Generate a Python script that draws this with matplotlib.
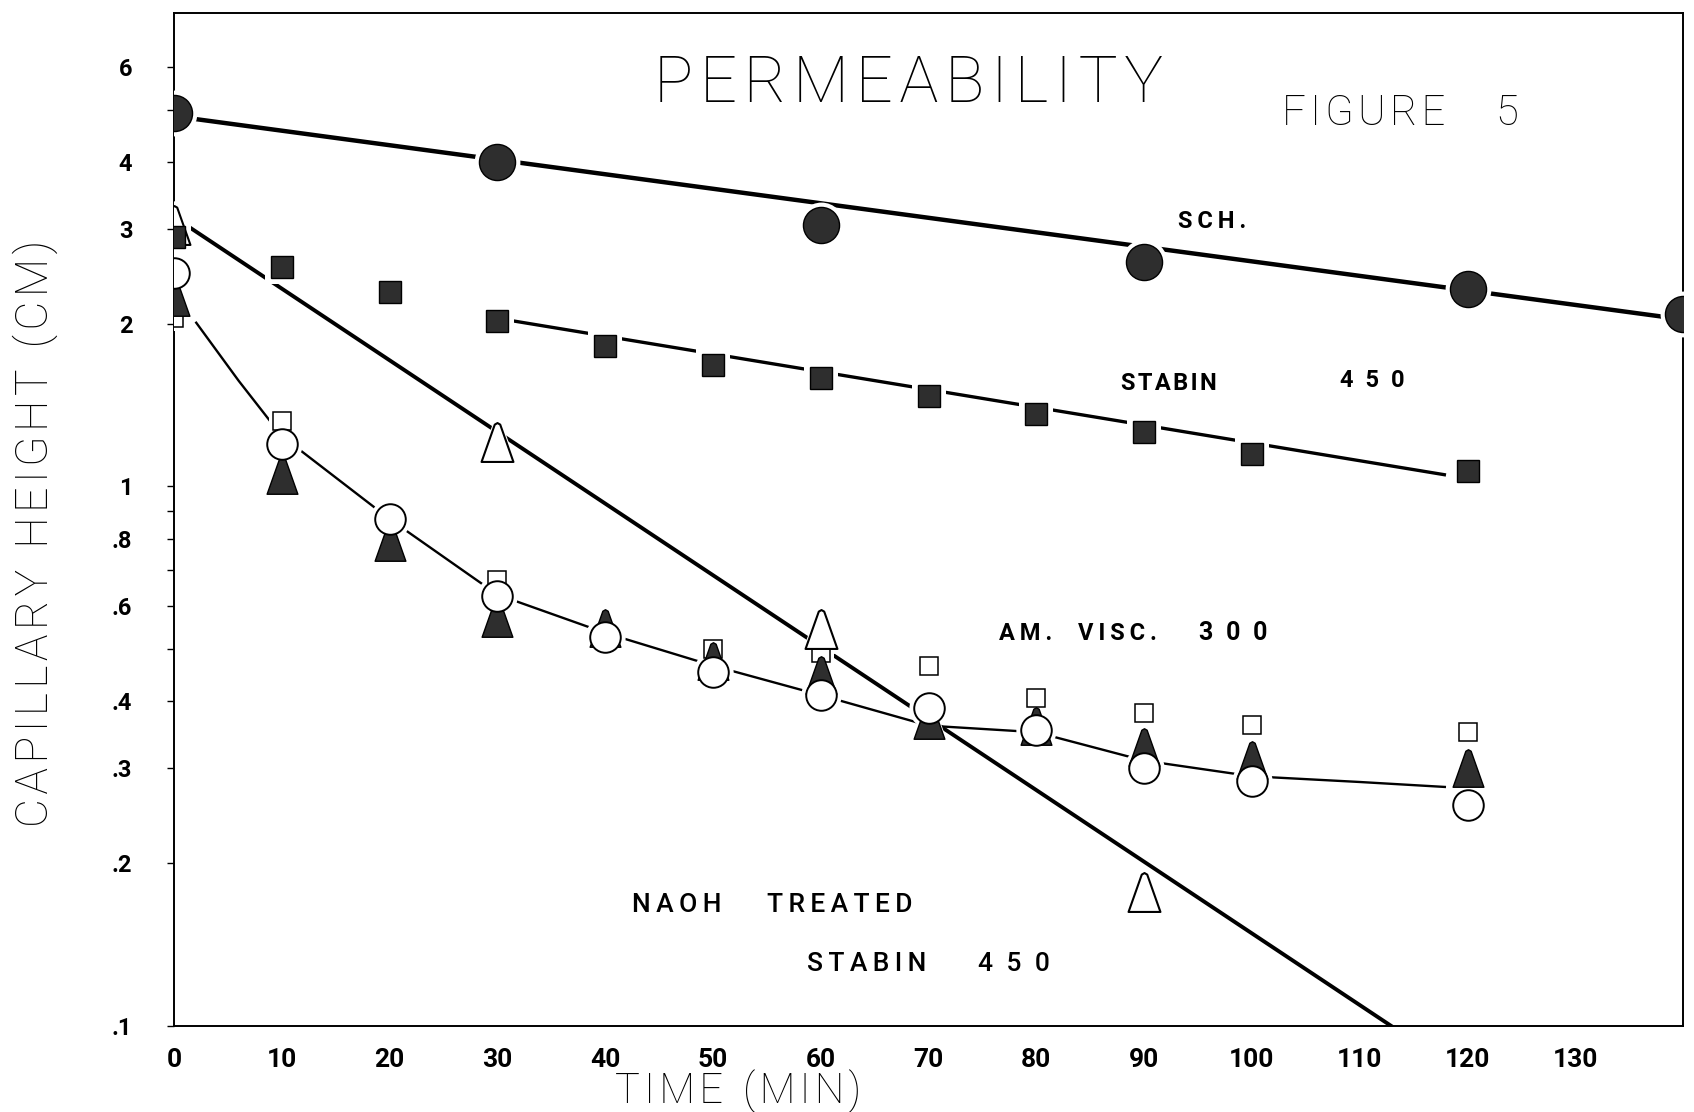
import matplotlib
matplotlib.use("Agg")
import matplotlib.pyplot as plt
from matplotlib.path import Path
from matplotlib.ticker import FixedLocator, FixedFormatter, NullFormatter

# ---- capillary height (cm) against time (min) ----
sch_t = [0, 30, 60, 90, 120, 140]
sch_h = [4.92, 3.99, 3.05, 2.61, 2.32, 2.09]
sch_fit_t = [0, 140]
sch_fit_h = [4.86, 2.04]

stabin_t = [0, 10, 20, 30, 40, 50, 60, 70, 80, 90, 100, 120]
stabin_h = [2.90, 2.55, 2.29, 2.03, 1.82, 1.68, 1.59, 1.47, 1.36, 1.26, 1.15, 1.07]
stabin_fit_t = [30, 118]
stabin_fit_h = [2.05, 1.05]

naoh_t = [0, 30, 60, 90]
naoh_h = [3.05, 1.21, 0.544, 0.177]
naoh_fit_t = [0, 140]
naoh_fit_h = [3.16, 0.0436]

amv_circle_t = [0, 10, 20, 30, 40, 50, 60, 70, 80, 90, 100, 120]
amv_circle_h = [2.49, 1.20, 0.871, 0.625, 0.525, 0.452, 0.41, 0.388, 0.354, 0.301, 0.284, 0.256]
amv_tri_t = [0, 10, 20, 30, 40, 50, 60, 70, 80, 90, 100, 120]
amv_tri_h = [2.25, 1.05, 0.79, 0.57, 0.546, 0.474, 0.446, 0.369, 0.36, 0.329, 0.311, 0.30]
amv_sq_t = [0, 10, 30, 50, 60, 70, 80, 90, 100, 120]
amv_sq_h = [2.05, 1.32, 0.67, 0.50, 0.491, 0.465, 0.405, 0.380, 0.361, 0.351]
amv_curve_t = [2, 6, 10, 20, 30, 40, 50, 60, 70, 80, 90, 100, 110, 118]
amv_curve_h = [2.02, 1.57, 1.24, 0.87, 0.63, 0.535, 0.465, 0.41, 0.36, 0.35, 0.31, 0.29, 0.283, 0.277]

x_ticks = list(range(0, 140, 10))
y_ticks = [0.1, 0.2, 0.3, 0.4, 0.6, 0.8, 1, 2, 3, 4, 6]
y_tick_labels = [".1", ".2", ".3", ".4", ".6", ".8", "1", "2", "3", "4", "6"]
y_minor = [0.5, 0.7, 0.9, 5]

INK = "black"
FILL = "#2e2e2e"
SANS = ["Roboto", "DejaVu Sans"]

HAIR = "\u200a"
THIN_SP = "\u2009"
EN_SP = "\u2002"


def tracked(s, gap=HAIR):
    """Letter-space a string the way stencil lettering is spaced."""
    return gap.join(s)


# tall stencil triangle
tall_tri = Path(
    [(-0.41, -0.5), (0.41, -0.5), (0.07, 0.46), (0.0, 0.5), (-0.07, 0.46), (-0.41, -0.5)],
    [Path.MOVETO, Path.LINETO, Path.LINETO, Path.LINETO, Path.LINETO, Path.CLOSEPOLY],
)

fig = plt.figure(figsize=(16.94, 11.12), dpi=100)
ax = fig.add_axes([0.1027, 0.0777, 0.8909, 0.9106])
ax.set_yscale("log")
ax.set_xlim(0, 140)
ax.set_ylim(0.1, 7.55)

# ---- ruled / drawn lines ----
ax.plot(sch_fit_t, sch_fit_h, color=INK, lw=3.2, solid_capstyle="butt", zorder=2)
ax.plot(stabin_fit_t, stabin_fit_h, color=INK, lw=2.4, solid_capstyle="butt", zorder=2)
ax.plot(naoh_fit_t, naoh_fit_h, color=INK, lw=2.8, solid_capstyle="butt", zorder=2)
ax.plot(amv_curve_t, amv_curve_h, color=INK, lw=1.7, solid_capstyle="butt", zorder=2)

# ---- white clearance around symbols so the lines stop short of them ----
halo = dict(ls="none", color="white", mew=0, zorder=3)
ax.plot(sch_t, sch_h, marker="o", ms=33, **halo)
ax.plot(stabin_t, stabin_h, marker="s", ms=24, **halo)
ax.plot(naoh_t, naoh_h, marker=tall_tri, ms=35, **halo)
ax.plot(amv_circle_t, amv_circle_h, marker="o", ms=29, **halo)
ax.plot(amv_tri_t, amv_tri_h, marker=tall_tri, ms=32, **halo)
ax.plot(amv_sq_t, amv_sq_h, marker="s", ms=19, **halo)

# ---- symbols ----
ax.plot(amv_sq_t, amv_sq_h, ls="none", marker="s", ms=13, mfc="white", mec=INK, mew=1.1, zorder=4)
ax.plot(naoh_t, naoh_h, ls="none", marker=tall_tri, ms=28, mfc="white", mec=INK, mew=1.5, zorder=5)
ax.plot(stabin_t, stabin_h, ls="none", marker="s", ms=16, mfc=FILL, mec=INK, mew=1.0, zorder=6)
ax.plot(amv_tri_t, amv_tri_h, ls="none", marker=tall_tri, ms=27, mfc=FILL, mec=INK, mew=1.0, zorder=6)
ax.plot(amv_circle_t, amv_circle_h, ls="none", marker="o", ms=22, mfc="white", mec=INK, mew=1.4, zorder=7)
ax.plot(sch_t, sch_h, ls="none", marker="o", ms=26, mfc=FILL, mec=INK, mew=1.0, zorder=7)

# ---- axes frame and ticks ----
for side in ["left", "bottom", "top", "right"]:
    ax.spines[side].set_linewidth(1.4)
    ax.spines[side].set_color(INK)

ax.xaxis.set_major_locator(FixedLocator(x_ticks))
ax.xaxis.set_major_formatter(FixedFormatter([str(t) for t in x_ticks]))
ax.xaxis.set_minor_locator(FixedLocator([]))
ax.tick_params(axis="x", which="both", length=0, pad=16)
for lbl in ax.get_xticklabels():
    lbl.set_fontfamily(SANS)
    lbl.set_fontweight("bold")
    lbl.set_fontsize(19)

ax.yaxis.set_major_locator(FixedLocator(y_ticks))
ax.yaxis.set_major_formatter(FixedFormatter(y_tick_labels))
ax.yaxis.set_minor_locator(FixedLocator(y_minor))
ax.yaxis.set_minor_formatter(NullFormatter())
ax.tick_params(axis="y", which="both", direction="out", length=5, width=1.0, pad=25)
for lbl in ax.get_yticklabels():
    lbl.set_fontfamily(SANS)
    lbl.set_fontweight("bold")
    lbl.set_fontsize(17)

# ---- lettering ----
fig.text(0.5364, 0.9242, tracked("PERMEABILITY"), family=SANS, weight="light",
         fontsize=47, ha="center", va="center")
fig.text(0.8048, 0.898, tracked("FIGURE"), family=SANS, weight="light",
         fontsize=30, ha="center", va="center")
fig.text(0.8897, 0.898, "5", family=SANS, weight="light",
         fontsize=30, ha="center", va="center")

bold = dict(family=SANS, weight="bold", fontsize=17, va="center", ha="left")
fig.text(0.6952, 0.8008, tracked("SCH.", THIN_SP), **bold)
fig.text(0.662, 0.655, tracked("STABIN", HAIR), **bold)
fig.text(0.7908, 0.658, tracked("450", EN_SP), **bold)
fig.text(0.5899, 0.4305, tracked("AM.", THIN_SP), **bold)
fig.text(0.6365, 0.4305, tracked("VISC.", THIN_SP), **bold)
fig.text(0.7079, 0.4305, tracked("300", EN_SP), **{**bold, "fontsize": 18})

medium = dict(family=SANS, weight="medium", fontsize=19, va="center", ha="left")
fig.text(0.3731, 0.1866, tracked("NAOH", THIN_SP), **medium)
fig.text(0.4528, 0.1866, tracked("TREATED", THIN_SP), **medium)
fig.text(0.4764, 0.1331, tracked("STABIN", THIN_SP), **medium)
fig.text(0.5772, 0.1331, tracked("450", EN_SP), **medium)

fig.text(0.021, 0.52, tracked("CAPILLARY") + "  " + tracked("HEIGHT") + "  " + tracked("(CM)"),
         family=SANS, weight="light", fontsize=32, rotation=90, ha="center", va="center")
fig.text(0.4356, 0.0185, tracked("TIME") + "  " + tracked("(MIN)"),
         family=SANS, weight="light", fontsize=30, ha="center", va="center")

fig.savefig("out.png", dpi=100, facecolor="white")
